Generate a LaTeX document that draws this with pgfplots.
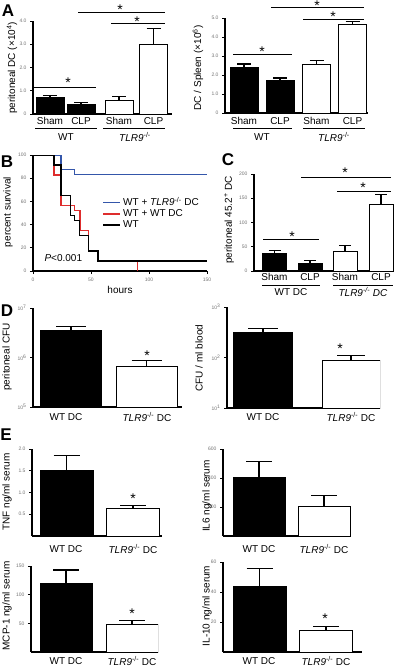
\documentclass[border=0pt]{standalone}
\usepackage{fontspec}
\setmainfont{Liberation Sans}
\usepackage{pgfplots}
\pgfplotsset{compat=1.18}

\newcommand{\lab}{\fontsize{10}{11}\selectfont}
\newcommand{\stf}{\fontsize{14}{14}\selectfont}
\newcommand{\tl}{\fontsize{5}{5}\selectfont}
\newcommand{\tlr}{\textit{TLR9}\textsuperscript{-/-}}
\definecolor{survblue}{RGB}{52,86,170}
\definecolor{survred}{RGB}{222,45,45}

\pgfplotsset{
  panel/.style={scale only axis, anchor=south west, axis lines*=left,
    axis line style={line width=1.5pt,-}, xtick=\empty, xmin=0, ymin=0,
    tick align=outside, major tick length=3pt,
    ytick style={line width=0.7pt,black}, xtick style={line width=0.7pt,black},
    yticklabel style={font=\tl, text=black!55},
    xticklabel style={font=\tl, text=black!55}},
  bars/.style n args={3}{ybar, bar width=#1, bar shift=0pt, fill=#3, draw=black,
    line width=0.8pt, error bars/.cd, y dir=plus, y explicit,
    error bar style={line width=1.1pt,black},
    error mark options={rotate=90, mark size=#2, line width=1.1pt, black}},
}

\begin{document}
\begin{tikzpicture}
\useasboundingbox (0pt,0pt) rectangle (400pt,-666pt);

% ---------------- Panel A left
\begin{axis}[panel, at={(33pt,-114pt)}, width=139pt, height=93pt, xmax=139, ymax=4,
  ytick={0,1,2,3,4}, yticklabels={0,1.0,2.0,3.0,4.0}]
\addplot[bars={28}{7pt}{black}] coordinates {(17,0.73) +- (0,0.07)};
\addplot[bars={28}{7pt}{black}] coordinates {(48,0.40) +- (0,0.09)};
\addplot[bars={28}{7pt}{white}] coordinates {(86,0.58) +- (0,0.17)};
\addplot[bars={28}{7pt}{white}] coordinates {(120.5,2.99) +- (0,0.69)};
\end{axis}
\node[rotate=90,font=\lab] at (12pt,-68pt) {peritoneal DC (×10\textsuperscript{4})};
\foreach \x/\t in {50/Sham,81/CLP,119/Sham,153.5/CLP} \node[font=\lab] at (\x pt,-121pt) {\t};
\draw[line width=0.6pt] (35pt,-128pt)--(97pt,-128pt) (103pt,-128pt)--(165pt,-128pt);
\node[font=\lab] at (66pt,-137pt) {WT};
\node[font=\lab] at (135pt,-137pt) {\tlr};
\draw[line width=0.9pt] (34pt,-87pt)--(96pt,-87pt) (78pt,-12pt)--(165pt,-12pt) (111pt,-23pt)--(165pt,-23pt);
\node[font=\stf,anchor=base] at (68pt,-88pt) {*};
\node[font=\stf,anchor=base] at (120pt,-14.5pt) {*};
\node[font=\stf,anchor=base] at (137pt,-27pt) {*};

% ---------------- Panel A right
\begin{axis}[panel, at={(225pt,-113pt)}, width=143pt, height=95pt, xmax=143, ymax=5,
  ytick={0,1,2,3,4,5}, yticklabels={0,1.0,2.0,3.0,4.0,5.0}]
\addplot[bars={28}{7pt}{black}] coordinates {(19,2.42) +- (0,0.16)};
\addplot[bars={28}{7pt}{black}] coordinates {(55,1.74) +- (0,0.10)};
\addplot[bars={28}{7pt}{white}] coordinates {(91.5,2.54) +- (0,0.20)};
\addplot[bars={28}{7pt}{white}] coordinates {(127.5,4.65) +- (0,0.16)};
\end{axis}
\node[rotate=90,font=\lab] at (198pt,-68pt) {DC / Spleen (×10\textsuperscript{6})};
\foreach \x/\t in {244/Sham,280/CLP,316.5/Sham,352.5/CLP} \node[font=\lab] at (\x pt,-121pt) {\t};
\draw[line width=0.6pt] (233pt,-128pt)--(292pt,-128pt) (303pt,-128pt)--(365pt,-128pt);
\node[font=\lab] at (262pt,-137pt) {WT};
\node[font=\lab] at (334pt,-137pt) {\tlr};
\draw[line width=0.9pt] (233pt,-54pt)--(292pt,-54pt) (271pt,-7pt)--(364pt,-7pt) (303pt,-19pt)--(364pt,-19pt);
\node[font=\stf,anchor=base] at (262pt,-57pt) {*};
\node[font=\stf,anchor=base] at (317pt,-11pt) {*};
\node[font=\stf,anchor=base] at (333pt,-22pt) {*};

% ---------------- Panel B
\begin{axis}[panel, at={(33pt,-271pt)}, width=174pt, height=116pt, xmax=150, ymax=100,
  xtick={0,50,100,150}, xticklabels={0,50,100,150},
  ytick={0,20,40,60,80,100}, yticklabels={0,20,40,60,80,100},
  legend style={at={(0.40,0.655)}, anchor=north west, draw=none, fill=none,
    font=\lab, inner sep=0pt, row sep=-1.5pt},
  legend cell align=left,
  legend image code/.code={\draw[#1] (0pt,0pt)--(17pt,0pt);}]
\addplot[const plot, line width=1.4pt, survblue] coordinates {(0,100) (24,87.5) (36,83.3) (150,83.3)};
\addplot[const plot, line width=1.4pt, survred] coordinates {(0,100) (18,82.6) (24,56.5) (36,52.2) (40.5,34.8) (48,17.4) (56,8.7) (90,0)};
\addplot[const plot, line width=1.4pt, black] coordinates {(0,100) (18,91.3) (24,65.2) (32.5,47.8) (36,43.5) (40,30.4) (48,17.4) (56,8.7) (150,8.7)};
\legend{WT + \tlr{} DC, WT + WT DC, WT}
\end{axis}
\node[rotate=90,font=\lab] at (8pt,-212pt) {percent survival};
\node[font=\lab] at (120pt,-290pt) {hours};
\node[font=\lab,anchor=west] at (41pt,-258pt) {\textit{P}<0.001};

% ---------------- Panel C
\begin{axis}[panel, at={(254pt,-271pt)}, width=140pt, height=97pt, xmax=140, ymax=200,
  ytick={0,50,100,150,200}, yticklabels={0,50,100,150,200}]
\addplot[bars={24}{6pt}{black}] coordinates {(20.5,36.5) +- (0,6.5)};
\addplot[bars={24}{6pt}{black}] coordinates {(56,16) +- (0,6)};
\addplot[bars={24}{6pt}{white}] coordinates {(91,41) +- (0,12)};
\addplot[bars={24}{6pt}{white}] coordinates {(127,138) +- (0,19)};
\end{axis}
\node[rotate=90,font=\lab] at (229pt,-220pt) {peritoneal 45.2\textsuperscript{+} DC};
\foreach \x/\t in {274.5/Sham,310/CLP,345/Sham,381/CLP} \node[font=\lab] at (\x pt,-277pt) {\t};
\draw[line width=0.6pt] (262pt,-285pt)--(320pt,-285pt) (333pt,-285pt)--(393pt,-285pt);
\node[font=\lab] at (291pt,-292pt) {WT DC};
\node[font=\lab] at (363pt,-292pt) {\textit{TLR9\textsuperscript{-/-} DC}};
\draw[line width=0.9pt] (263pt,-239pt)--(319pt,-239pt) (301pt,-177pt)--(391pt,-177pt) (337pt,-191pt)--(391pt,-191pt);
\node[font=\stf,anchor=base] at (292pt,-241pt) {*};
\node[font=\stf,anchor=base] at (345pt,-177pt) {*};
\node[font=\stf,anchor=base] at (363pt,-192pt) {*};

% ---------------- Panel D left
\begin{axis}[panel, at={(33pt,-407pt)}, width=149pt, height=99pt, xmax=149,
  ymode=log, log origin=infty, ymin=1e5, ymax=1e7, yminorticks=false,
  ytick={1e5,1e6,1e7}, yticklabels={10\textsuperscript{5},10\textsuperscript{6},10\textsuperscript{7}}]
\addplot[bars={61}{15pt}{black}] coordinates {(38,3.5e6) +- (0,0.7e6)};
\addplot[bars={61}{15pt}{white}] coordinates {(113.5,6.6e5) +- (0,2.1e5)};
\end{axis}
\node[rotate=90,font=\lab] at (7pt,-357pt) {peritoneal CFU};
\node[font=\lab] at (66pt,-417pt) {WT DC};
\node[font=\lab] at (147pt,-417pt) {\tlr{} DC};
\node[font=\stf,anchor=base] at (147pt,-360pt) {*};

% ---------------- Panel D right
\begin{axis}[panel, at={(227pt,-408pt)}, width=153pt, height=101pt, xmax=153,
  ymode=log, log origin=infty, ymin=10, ymax=1000, yminorticks=false,
  ytick={10,100,1000}, yticklabels={10\textsuperscript{1},10\textsuperscript{2},10\textsuperscript{3}}]
\addplot[bars={59}{15pt}{black}] coordinates {(36,316) +- (0,64)};
\addplot[bars={58}{14pt}{white}] coordinates {(124,87) +- (0,23)};
\end{axis}
\node[rotate=90,font=\lab] at (199pt,-358pt) {CFU / ml blood};
\node[font=\lab] at (263pt,-417pt) {WT DC};
\node[font=\lab] at (351pt,-417pt) {\tlr{} DC};
\node[font=\stf,anchor=base] at (340pt,-353pt) {*};

% ---------------- Panel E TNF
\begin{axis}[panel, at={(32pt,-536pt)}, width=130pt, height=87pt, xmax=130, ymax=2,
  ytick={0.5,1,1.5,2}, yticklabels={0.5,1.0,1.5,2.0}]
\addplot[bars={53}{13pt}{black}] coordinates {(34.5,1.5) +- (0,0.35)};
\addplot[bars={53}{13pt}{white}] coordinates {(101,0.64) +- (0,0.07)};
\end{axis}
\node[rotate=90,font=\lab] at (7pt,-492pt) {TNF ng/ml serum};
\node[font=\lab] at (66pt,-549pt) {WT DC};
\node[font=\lab] at (133pt,-549pt) {\tlr{} DC};
\node[font=\stf,anchor=base] at (133pt,-503pt) {*};

% ---------------- Panel E IL6
\begin{axis}[panel, at={(223pt,-536pt)}, width=128pt, height=87pt, xmax=128, ymax=600,
  ytick={200,400,600}, yticklabels={200,400,600}]
\addplot[bars={52}{13pt}{black}] coordinates {(36,405) +- (0,110)};
\addplot[bars={52}{13pt}{white}] coordinates {(101,205) +- (0,75)};
\end{axis}
\node[rotate=90,font=\lab] at (207pt,-496pt) {IL6 ng/ml serum};
\node[font=\lab] at (259pt,-549pt) {WT DC};
\node[font=\lab] at (324pt,-549pt) {\tlr{} DC};

% ---------------- Panel E MCP-1
\begin{axis}[panel, at={(31pt,-652pt)}, width=127pt, height=86pt, xmax=127, ymax=150,
  ytick={50,100,150}, yticklabels={50,100,150}]
\addplot[bars={52}{13pt}{black}] coordinates {(35,119) +- (0,24)};
\addplot[bars={52}{13pt}{white}] coordinates {(101,48) +- (0,7)};
\end{axis}
\node[rotate=90,font=\lab] at (7pt,-606pt) {MCP-1 ng/ml serum};
\node[font=\lab] at (66pt,-661pt) {WT DC};
\node[font=\lab] at (132pt,-661pt) {\tlr{} DC};
\node[font=\stf,anchor=base] at (132pt,-618pt) {*};

% ---------------- Panel E IL-10
\begin{axis}[panel, at={(223pt,-652pt)}, width=139pt, height=90pt, xmax=139, ymax=60,
  ytick={20,40,60}, yticklabels={20,40,60}]
\addplot[bars={53}{13pt}{black}] coordinates {(36.5,43.5) +- (0,12)};
\addplot[bars={53}{13pt}{white}] coordinates {(103,14.5) +- (0,2.8)};
\end{axis}
\node[rotate=90,font=\lab] at (207pt,-606pt) {IL-10 ng/ml serum};
\node[font=\lab] at (259pt,-661pt) {WT DC};
\node[font=\lab] at (326pt,-661pt) {\tlr{} DC};
\node[font=\stf,anchor=base] at (325pt,-623pt) {*};

% ---------------- Panel letters
\foreach \x/\y/\t in {8/11/A,7/162/B,228/160/C,7/311/D,6/435/E}
  \node[font=\fontsize{17}{17}\selectfont\bfseries] at (\x pt,-\y pt) {\t};
\end{tikzpicture}
\end{document}
